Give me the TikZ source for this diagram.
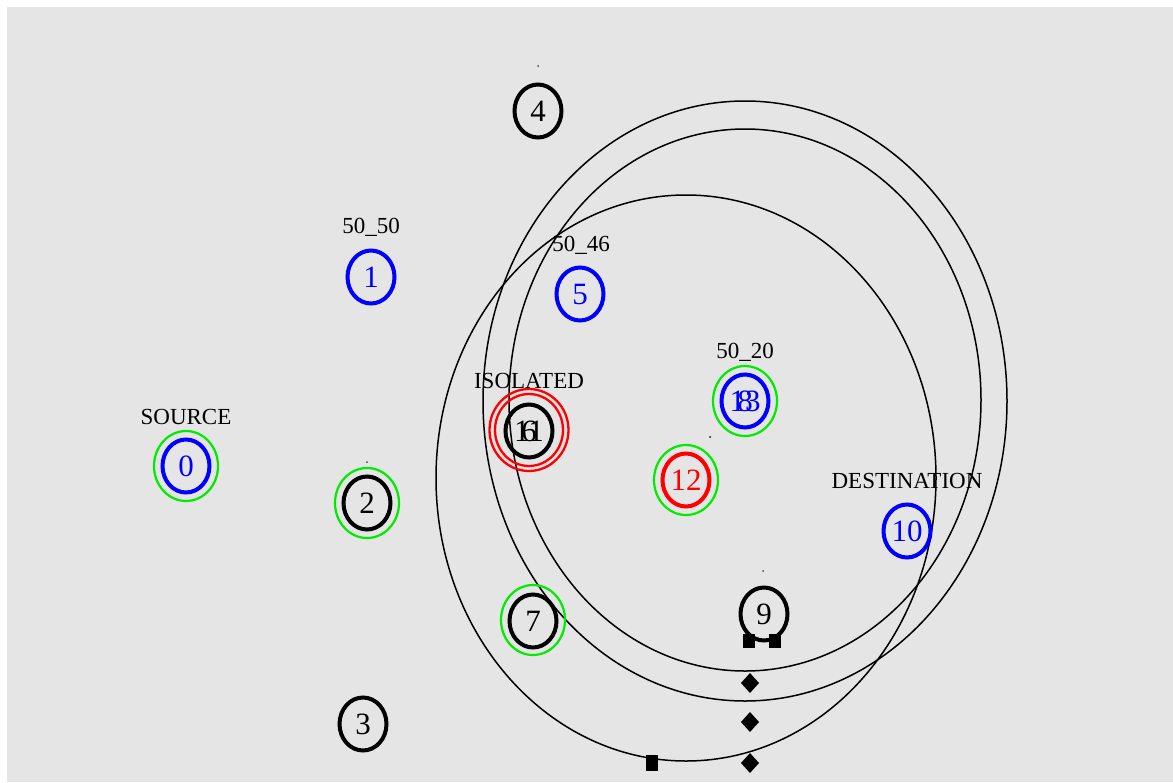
\documentclass[tikz,border=0pt]{standalone}
\usepackage{fontspec}
\setmainfont{Liberation Serif}
\usetikzlibrary{shapes.geometric}
\definecolor{panel}{RGB}{229,229,229}
\definecolor{ngreen}{RGB}{0,235,0}
\definecolor{nblue}{RGB}{0,0,255}
\definecolor{nred}{RGB}{255,0,0}
% two node numbers printed on top of each other
\newcommand\numpair[2]{\makebox[0pt]{#1}\makebox[0pt]{#2}}
\begin{document}
\begin{tikzpicture}[x=1pt,y=-1pt,
  every node/.style={inner sep=0pt,outer sep=0pt},
  mote/.style={node font=\fontsize{31}{31}\selectfont},
  ringnode/.style={ellipse,draw,line width=4pt,minimum width=47pt,minimum height=53pt,mote},
  halo/.style={ellipse,draw=ngreen,line width=2.2pt,minimum width=64pt,minimum height=70pt},
  tag/.style={font=\fontsize{23}{23}\selectfont,text=black},
  radiorange/.style={draw=black,line width=1.5pt},
  speck/.style={circle,fill=black!70,minimum size=2pt},
  blockmark/.style={rectangle,fill=black,minimum width=12pt,minimum height=14pt},
  gemmark/.style={diamond,fill=black,minimum width=18pt,minimum height=20pt}]
\useasboundingbox (0,0) rectangle (1173,782);
\fill[white] (0,0) rectangle (1173,782);
\fill[panel] (7,7) rectangle (1173,782);

% transmission ranges
\draw[radiorange] (745,401) ellipse [x radius=262, y radius=300];
\draw[radiorange] (745,400) ellipse [x radius=236, y radius=271];
\draw[radiorange] (686,478) ellipse [x radius=250, y radius=283];

% green halos
\node[halo] (h0) at (186,466) {};
\node[halo] (h2) at (367,503) {};
\node[halo] (h7) at (533,620) {};
\node[halo] (h8) at (745,401) {};
\node[halo] (h12) at (686,480) {};

% red rings of the isolated node
\node[ellipse,draw=nred,line width=2.3pt,minimum width=79pt,minimum height=82pt] (iso1) at (529,430) {};
\node[ellipse,draw=nred,line width=2.3pt,minimum width=68pt,minimum height=72pt] (iso2) at (529,430) {};

% nodes
\node[ringnode,draw=nblue,text=nblue] (n0) at (186,466) {0};
\node[ringnode,draw=nblue,text=nblue] (n1) at (371,277) {1};
\node[ringnode] (n2) at (367,503) {2};
\node[ringnode] (n3) at (363,724) {3};
\node[ringnode] (n4) at (538,111) {4};
\node[ringnode,draw=nblue,text=nblue] (n5) at (580,294) {5};
\node[ringnode] (n6) at (529,431) {\numpair{11}{6}};
\node[ringnode] (n7) at (533,621) {7};
\node[ringnode,draw=nblue,text=nblue] (n8) at (745,401) {\numpair{13}{8}};
\node[ringnode] (n9) at (764,614) {9};
\node[ringnode,draw=nblue,text=nblue] (n10) at (907,531) {10};
\node[ringnode,draw=nred,text=nred] (n12) at (686,480) {12};

% labels
\node[tag] (lsrc) at (186,417) {SOURCE};
\node[tag] (l1) at (371,227) {50\_50};
\node[tag] (l5) at (581,245) {50\_46};
\node[tag] (liso) at (529,381) {ISOLATED};
\node[tag] (l8) at (745,352) {50\_20};
\node[tag] (ldst) at (907,481) {DESTINATION};

% specks
\node[speck] (s2) at (367,462) {};
\node[speck] (s4) at (538,66) {};
\node[speck] (s9) at (763,571) {};
\node[speck,minimum size=2.5pt] (s12) at (710,437) {};

% markers
\node[blockmark] (b1) at (749,641) {};
\node[blockmark] (b2) at (775,641) {};
\node[blockmark,minimum height=16pt] (b3) at (652,763) {};
\node[gemmark] (g1) at (750,683) {};
\node[gemmark] (g2) at (750,722) {};
\node[gemmark] (g3) at (750,763) {};
\end{tikzpicture}
\end{document}
